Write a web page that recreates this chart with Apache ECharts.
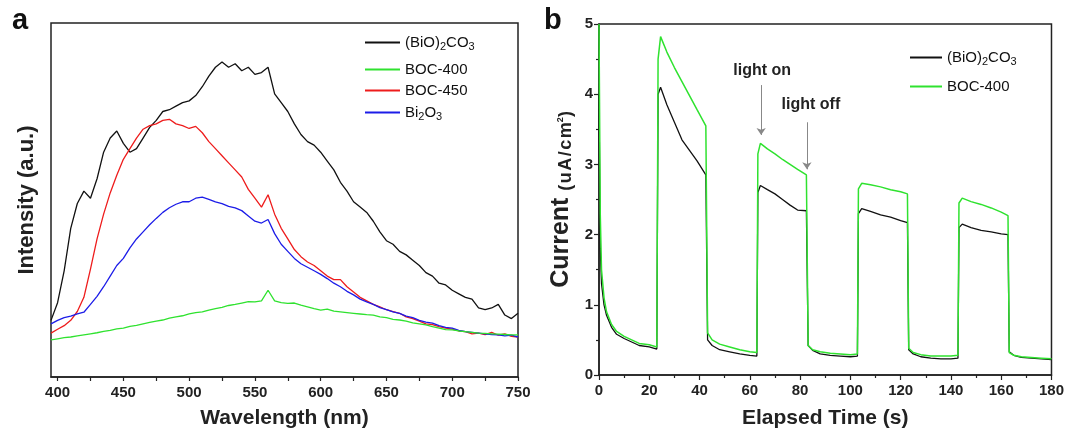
<!DOCTYPE html>
<html>
<head>
<meta charset="utf-8">
<script src="https://cdn.jsdelivr.net/npm/echarts@6/dist/echarts.min.js"></script>
<style>
html,body{margin:0;padding:0;background:#fff;}
#chart{width:1067px;height:435px;}
</style>
</head>
<body>
<div id="chart"></div>
<script>
// ---------- Panel a: PL spectra ----------
const wavelength = [395,400,405,410,415,420,425,430,435,440,445,450,455,460,465,470,475,480,485,490,495,500,505,510,515,520,525,530,535,540,545,550,555,560,565,570,575,580,585,590,595,600,605,610,615,620,625,630,635,640,645,650,655,660,665,670,675,680,685,690,695,700,705,710,715,720,725,730,735,740,745,750];
const bioco3A = [16,21,30,42,49,52.5,50.5,56,63.5,67.5,69.5,66,63.5,64.5,67.5,70.5,72.5,75,75.5,76.5,77.5,78,79.5,82,85,87.5,89,87.5,88.5,86.5,87.5,85.5,86,87.5,80,77.5,75,71.5,68.5,66.5,65.5,63.5,61,58.5,55,52.5,49.5,48,46.5,44,41,38.5,37.5,35.5,34.5,33,31.5,29.5,28.5,26.5,26,24.5,23.5,22.5,22,19.5,19,19.5,20.5,17.5,16.5,18];
const boc400A = [10.5,10.8,11.1,11.3,11.6,11.9,12.2,12.5,12.9,13.2,13.6,13.8,14.3,14.6,15,15.4,15.8,16.1,16.6,17,17.3,17.8,18.2,18.4,18.9,19.3,19.7,20.2,20.5,20.9,21.3,21.2,21.5,24.5,21.5,21,20.8,20.9,20.3,19.8,19.3,18.9,19.2,18.6,18.4,18.2,18,17.8,17.6,17.5,17,16.8,16.3,16.1,15.8,15.3,15,14.7,14.2,13.8,13.4,13.3,13,12.8,12.6,12.4,12.3,12.2,12.1,12,11.9,11.9];
const boc450A = [12.4,13.5,14.5,16,18.5,22.5,30.5,39,46,52,57,61.5,64.5,67.5,70,71,71.5,72.5,72.8,71.5,71,70.2,70.8,69,66.5,64.5,62.5,60.5,58.5,56.5,53,50.5,48,51.5,46,42,39,36,34,32.5,31.5,30,28.5,27.5,27.5,25.5,24,22.5,21.5,20.5,19.8,19,18.5,18,17,16.5,15.8,15,14.8,14.2,13.8,13.5,13,12.8,12.2,12.4,12,12.6,11.8,12.2,11.5,11.3];
const bi2o3A = [15,16,16.8,17.2,17.8,18.3,20.5,22.8,25.5,28.5,31.5,33.5,36.5,39,41,43,44.8,46.5,47.8,48.8,49.5,49.5,50.5,50.8,50.2,49.5,49,48.2,47.8,47,45.5,44,43.5,44.5,40.5,37.5,35.5,33.5,32,31,30,29,27.8,26.5,25.5,24.2,23.2,22,21.2,20.5,19.6,19,18.4,18,17.2,16.8,16,15.5,15.2,14.5,14,13.8,13.2,12.8,12.6,12.4,12.2,12,11.9,11.6,11.8,11.3];
const wlLabels = [400,450,500,550,600,650,700,750];
const wlTicks = [400,425,450,475,500,525,550,575,600,625,650,675,700,725,750];
const legendA = ['(BiO)2CO3', 'BOC-400', 'BOC-450', 'Bi2O3'];

// ---------- Panel b: photocurrent ----------
const timeB = [0,0.5,1,2,3,5,7,10,13,16,20,23,
  23.5,24.5,27,30,33,36,39,42.5,
  43.2,45,48,52,56,60,62.8,
  63.2,64.2,67,70,73,76,79,82.5,
  83.2,85,88,92,96,100,102.8,
  103.2,104.5,108,112,116,120,122.7,
  123.2,125,128,132,136,140,142.8,
  143.2,144.5,148,152,156,160,162.7,
  163.2,165,168,172,176,180];
const bioco3B = [4.0,1.8,1.3,1.0,0.85,0.68,0.58,0.52,0.47,0.42,0.4,0.37,
  4.0,4.1,3.85,3.6,3.35,3.2,3.05,2.85,
  0.5,0.42,0.36,0.33,0.3,0.28,0.27,
  2.6,2.7,2.64,2.58,2.5,2.42,2.35,2.34,
  0.42,0.35,0.3,0.28,0.27,0.26,0.27,
  2.3,2.37,2.33,2.28,2.25,2.2,2.17,
  0.36,0.3,0.26,0.24,0.23,0.23,0.24,
  2.1,2.15,2.1,2.06,2.04,2.01,2.0,
  0.33,0.28,0.25,0.24,0.23,0.22];
const boc400B = [5.0,2.3,1.5,1.1,0.9,0.72,0.62,0.55,0.5,0.45,0.43,0.4,
  4.5,4.82,4.6,4.38,4.18,3.98,3.78,3.55,
  0.6,0.5,0.44,0.4,0.36,0.33,0.32,
  3.15,3.3,3.22,3.15,3.07,3.0,2.93,2.85,
  0.42,0.36,0.33,0.31,0.3,0.29,0.3,
  2.65,2.73,2.71,2.68,2.64,2.61,2.58,
  0.38,0.32,0.29,0.27,0.27,0.27,0.28,
  2.45,2.52,2.47,2.43,2.38,2.32,2.27,
  0.32,0.28,0.26,0.25,0.24,0.23];
const legendB = ['(BiO)2CO3', 'BOC-400'];
// annotations: [label, textX, textY, arrowX, arrowTop, arrowBottom]
const annotations = [
  ['light on', 64.9, 4.34, 64.5, 4.13, 3.42],
  ['light off', 84.3, 3.85, 82.7, 3.6, 2.93]
];

const FONT = 'Liberation Sans, Arial, sans-serif';
const C_BLACK = '#111111', C_GREEN = '#2fe22f', C_RED = '#ee1c1c', C_BLUE = '#1c1ce8';

const richLegend = {
  n: {fontSize: 15, fontFamily: FONT, color: '#111', lineHeight: 20},
  s: {fontSize: 11, fontFamily: FONT, color: '#111', lineHeight: 10, verticalAlign: 'bottom'}
};
function legendFmt(name) {
  if (name === '(BiO)2CO3') return '{n|(BiO)}{s|2}{n|CO}{s|3}';
  if (name === 'Bi2O3') return '{n|Bi}{s|2}{n|O}{s|3}';
  return '{n|' + name + '}';
}
function oneLegend(name, left, centerY, w) {
  return {
    data: [name], orient: 'vertical', left: left, top: centerY - 7,
    itemWidth: w, itemHeight: 2, itemGap: 0, icon: 'rect', padding: 0,
    formatter: legendFmt, textStyle: {rich: richLegend}, selectedMode: false
  };
}
const legendRowsA = [42, 69, 90, 112];
const legendRowsB = [57, 86];

function zip(xs, ys) { return xs.map((x, i) => [x, ys[i]]); }

const axisLineStyle = {color: '#222', width: 1.5};
const tickLabel = {fontSize: 15, fontWeight: 'bold', fontFamily: FONT, color: '#222'};
const HS = '\u200A';

const chart = echarts.init(document.getElementById('chart'), null, {renderer: 'canvas'});
chart.setOption({
  backgroundColor: '#fff',
  animation: false,
  textStyle: {fontFamily: FONT},
  graphic: [
    {type: 'text', x: 12, y: 21, style: {text: 'a', font: 'bold 29px ' + FONT, fill: '#111', textVerticalAlign: 'middle'}},
    {type: 'text', x: 544, y: 21, style: {text: 'b', font: 'bold 29px ' + FONT, fill: '#111', textVerticalAlign: 'middle'}}
  ],
  legend: legendA.map((n, i) => oneLegend(n, 365, legendRowsA[i], 35))
    .concat(legendB.map((n, i) => oneLegend(n, 910, legendRowsB[i], 32))),
  grid: [
    {left: 51, top: 23, width: 467, height: 354, show: true, borderColor: '#222', borderWidth: 1.5, containLabel: false},
    {left: 599, top: 24, width: 455, height: 351, show: true, borderColor: '#222', borderWidth: 1.5, containLabel: false}
  ],
  xAxis: [
    {
      gridIndex: 0, type: 'value', min: 395, max: 750, position: 'bottom',
      axisLine: {show: true, lineStyle: axisLineStyle},
      axisTick: {show: true, customValues: wlTicks, length: 4, lineStyle: {color: '#222', width: 1.2}},
      axisLabel: Object.assign({customValues: wlLabels, margin: 8}, tickLabel),
      splitLine: {show: false},
      name: 'Wavelength (nm)', nameLocation: 'middle', nameGap: 31,
      nameTextStyle: {fontSize: 21, fontWeight: 'bold', fontFamily: FONT, color: '#222'}
    },
    {
      gridIndex: 1, type: 'value', min: 0, max: 180, interval: 20, position: 'bottom',
      axisLine: {show: true, lineStyle: axisLineStyle},
      axisTick: {show: true, length: 5, lineStyle: {color: '#222', width: 1.2}},
      minorTick: {show: true, splitNumber: 2, length: 3, lineStyle: {color: '#222', width: 1.2}},
      axisLabel: Object.assign({margin: 8}, tickLabel),
      splitLine: {show: false}, minorSplitLine: {show: false},
      name: 'Elapsed Time (s)', nameLocation: 'middle', nameGap: 33,
      nameTextStyle: {fontSize: 21, fontWeight: 'bold', fontFamily: FONT, color: '#222'}
    }
  ],
  yAxis: [
    {
      gridIndex: 0, type: 'value', min: 0, max: 100,
      axisLine: {show: false}, axisTick: {show: false}, axisLabel: {show: false}, splitLine: {show: false},
      name: 'Intensity (a.u.)', nameLocation: 'middle', nameGap: 13, nameRotate: 90,
      nameTextStyle: {fontSize: 22, fontWeight: 'bold', fontFamily: FONT, color: '#222'}
    },
    {
      gridIndex: 1, type: 'value', min: 0, max: 5, interval: 1,
      axisLine: {show: true, lineStyle: axisLineStyle},
      axisTick: {show: true, length: 5, lineStyle: {color: '#222', width: 1.2}},
      minorTick: {show: true, splitNumber: 2, length: 3, lineStyle: {color: '#222', width: 1.2}},
      axisLabel: Object.assign({margin: 6}, tickLabel),
      splitLine: {show: false}, minorSplitLine: {show: false},
      name: '{c|Current }{u|(' + HS + 'u' + HS + 'A' + HS + '/' + HS + 'c' + HS + 'm}{p|2}{u|)}',
      nameLocation: 'middle', nameGap: 24, nameRotate: 90,
      nameTextStyle: {
        color: '#222',
        rich: {
          c: {fontSize: 25, fontWeight: 'bold', fontFamily: FONT, color: '#222', lineHeight: 28},
          u: {fontSize: 18, fontWeight: 'bold', fontFamily: FONT, color: '#222', lineHeight: 20, verticalAlign: 'bottom'},
          p: {fontSize: 9, fontWeight: 'bold', fontFamily: FONT, color: '#222', lineHeight: 10, verticalAlign: 'middle'}
        }
      }
    }
  ],
  series: [
    {name: '(BiO)2CO3', type: 'line', xAxisIndex: 0, yAxisIndex: 0, data: zip(wavelength, bioco3A), symbol: 'none', lineStyle: {color: C_BLACK, width: 1.3}, itemStyle: {color: C_BLACK}},
    {name: 'BOC-450', type: 'line', xAxisIndex: 0, yAxisIndex: 0, data: zip(wavelength, boc450A), symbol: 'none', lineStyle: {color: C_RED, width: 1.3}, itemStyle: {color: C_RED}},
    {name: 'Bi2O3', type: 'line', xAxisIndex: 0, yAxisIndex: 0, data: zip(wavelength, bi2o3A), symbol: 'none', lineStyle: {color: C_BLUE, width: 1.3}, itemStyle: {color: C_BLUE}},
    {name: 'BOC-400', type: 'line', xAxisIndex: 0, yAxisIndex: 0, data: zip(wavelength, boc400A), symbol: 'none', lineStyle: {color: C_GREEN, width: 1.3}, itemStyle: {color: C_GREEN}},
    {name: '(BiO)2CO3', type: 'line', xAxisIndex: 1, yAxisIndex: 1, data: zip(timeB, bioco3B), symbol: 'none', lineStyle: {color: C_BLACK, width: 1.3}, itemStyle: {color: C_BLACK}},
    {
      name: 'BOC-400', type: 'line', xAxisIndex: 1, yAxisIndex: 1, data: zip(timeB, boc400B), symbol: 'none',
      lineStyle: {color: C_GREEN, width: 1.5}, itemStyle: {color: C_GREEN},
      markLine: {
        silent: true, symbol: ['none', 'arrow'], symbolSize: 7, animation: false,
        lineStyle: {color: '#888', width: 1, type: 'solid'}, label: {show: false},
        data: annotations.map(a => [{coord: [a[3], a[4]]}, {coord: [a[3], a[5]]}])
      },
      markPoint: {
        silent: true, symbol: 'circle', symbolSize: 1, itemStyle: {color: 'rgba(0,0,0,0)'},
        label: {show: true, position: 'inside', formatter: '{b}', fontSize: 16, fontWeight: 'bold', fontFamily: FONT, color: '#222'},
        data: annotations.map(a => ({name: a[0], coord: [a[1], a[2]]}))
      }
    }
  ]
});
</script>
</body>
</html>
